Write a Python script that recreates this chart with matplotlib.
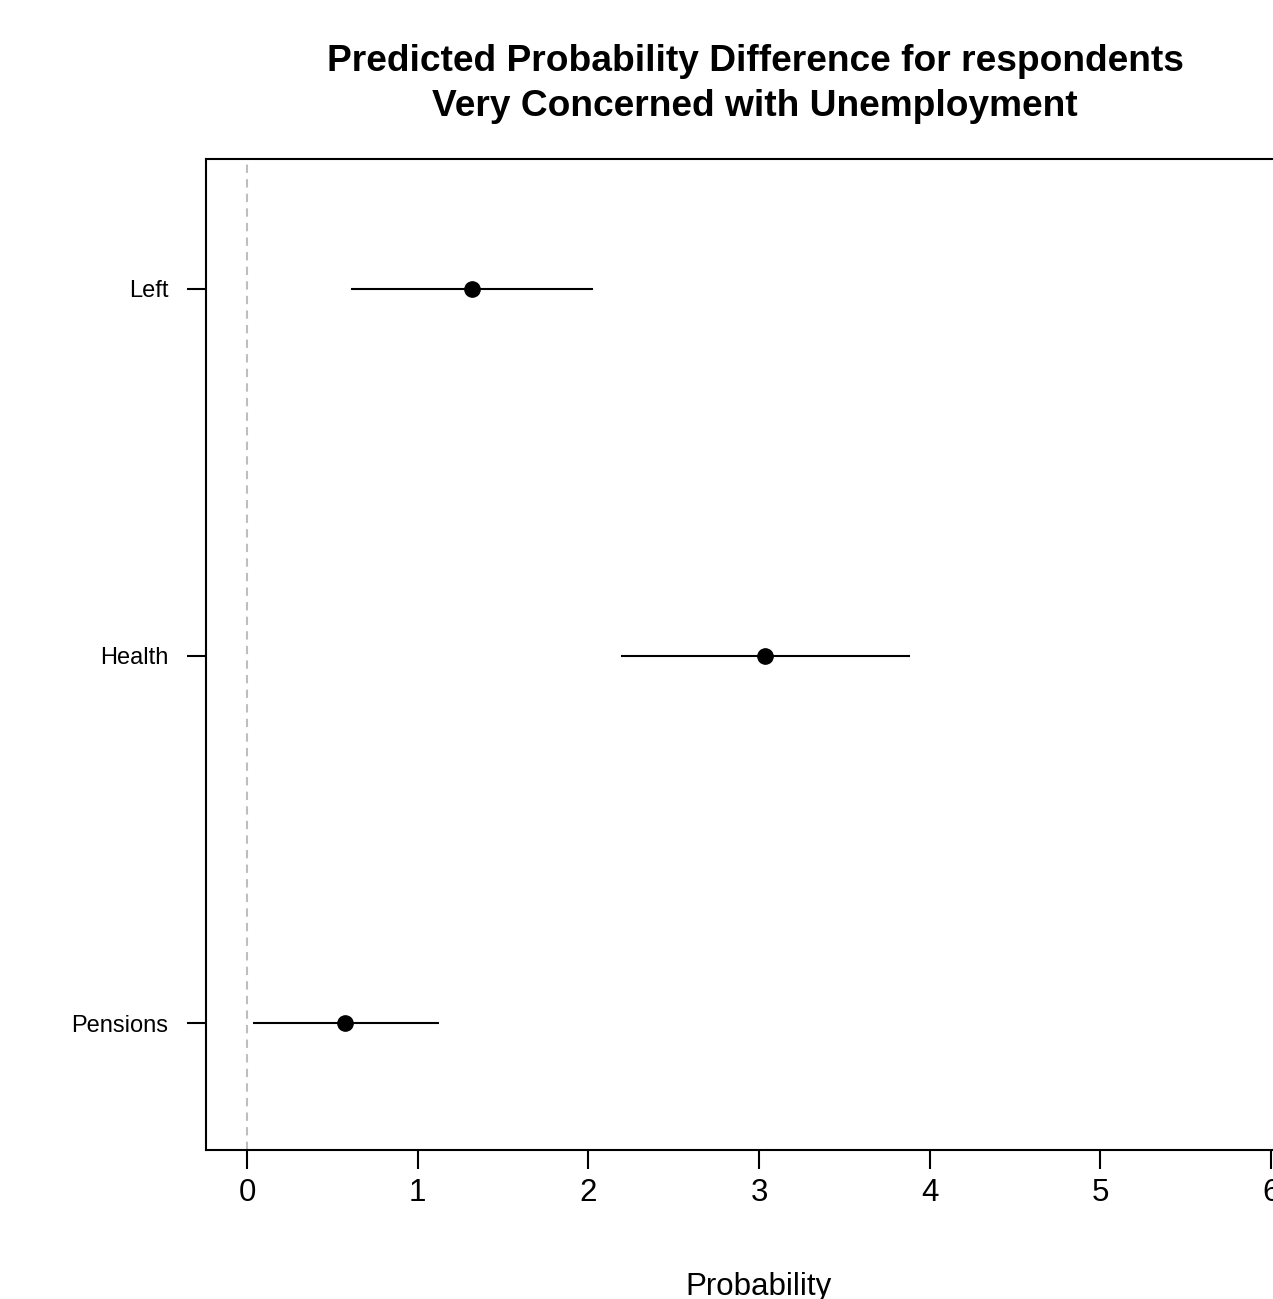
import matplotlib
matplotlib.use("Agg")
import matplotlib.pyplot as plt

# Valeurs
categories = ["Pensions", "Health", "Left"]
estimates = [0.574, 3.035, 1.318]
lower = [0.035, 2.191, 0.609]
upper = [1.125, 3.884, 2.027]
x_ticks = [0, 1, 2, 3, 4, 5, 6]

plt.rcParams['font.family'] = ['Liberation Sans', 'DejaVu Sans']

W, H = 1273, 1299
fig = plt.figure(figsize=(W / 100, H / 100), dpi=100)
ax = fig.add_axes([206 / W, (H - 1150) / H, (1312 - 206) / W, (1150 - 159) / H])

ypos = list(range(1, len(categories) + 1))

# ligne de référence à zéro
ax.axvline(0, color="#bebebe", lw=1.5, ls=(0, (4, 3)), zorder=1)

ax.hlines(ypos, lower, upper, color="black", lw=1.5, zorder=2)
ax.plot(estimates, ypos, "o", color="black", markersize=11, zorder=3)

ax.set_xlim(-0.24, 6.24)
ax.set_ylim(0.654, 3.354)

ax.set_xticks(x_ticks)
ax.set_xticklabels([str(t) for t in x_ticks])
ax.set_yticks(ypos)
ax.set_yticklabels(categories)

ax.tick_params(axis="x", length=14, width=1.5, pad=6, labelsize=22.5, direction="out")
ax.tick_params(axis="y", length=14, width=1.5, pad=13, labelsize=17, direction="out")
for s in ax.spines.values():
    s.set_linewidth(1.5)

fig.text(755 / W, (H - 84) / H,
         "Predicted Probability Difference for respondents\nVery Concerned with Unemployment",
         ha="center", va="center", fontsize=26.7, fontweight="bold", linespacing=1.37)
fig.text(759 / W, (H - 1272) / H, "Probability", ha="center", va="top", fontsize=22.5)

plt.savefig("out.png", dpi=100)
plt.close()
